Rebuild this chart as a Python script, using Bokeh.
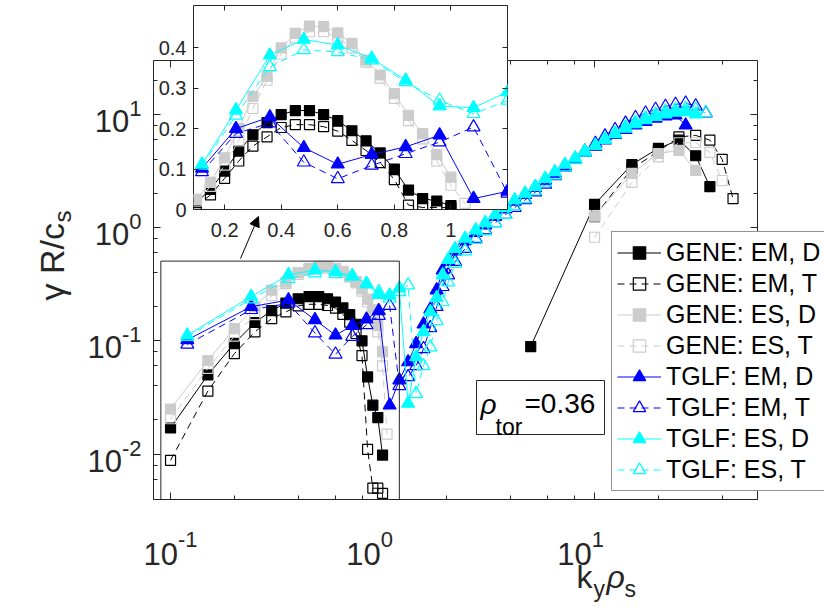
import math
from bokeh.plotting import figure
from bokeh.models import (Range1d, LogAxis, LinearAxis, LogTicker, FixedTicker, Label, Legend,
                          LegendItem, BoxAnnotation, Arrow, NormalHead, CustomJSTickFormatter)
from bokeh.embed import file_html
from bokeh.resources import INLINE

nan = float("nan")

# ---------------- data ----------------
gene_k = [0.10, 0.15, 0.20, 0.25, 0.30, 0.35, 0.40, 0.45, 0.50, 0.55, 0.60, 0.65, 0.70, 0.75,
          0.80, 0.85, 0.90, 0.95, 1.00, 1.05, 5, 10, 15, 20, 25, 30, 35, 40, 45]
gene_em_d = [0.017, 0.050, 0.095, 0.145, 0.185, 0.215, 0.235, 0.245, 0.245, 0.235, 0.220, 0.195,
             0.170, 0.140, 0.100, 0.048, 0.027, 0.021, 0.0098, nan,
             0.089, 1.6, 3.6, 5.0, 5.9, 4.3, 2.3, nan, nan]
gene_em_t = [0.0088, 0.036, 0.077, 0.120, 0.157, 0.180, 0.203, 0.210, 0.210, 0.205, 0.194, 0.171,
             0.146, 0.116, 0.074, 0.011, 0.005, 0.005, 0.0045, nan,
             nan, 1.25, 3.3, 4.7, 6.3, 6.5, 5.9, 4.0, 1.8]
gene_es_d = [0.025, 0.067, 0.128, 0.200, 0.280, 0.330, 0.400, 0.436, 0.454, 0.453, 0.437, 0.411,
             0.370, 0.333, 0.287, 0.233, 0.188, 0.136, 0.080, nan,
             nan, 1.26, 3.0, 4.5, 4.8, 3.2, nan, nan, nan]
gene_es_t = [0.0205, 0.057, 0.110, 0.170, 0.250, 0.320, 0.385, 0.425, 0.440, 0.440, 0.425, 0.400,
             0.365, 0.325, 0.275, 0.220, 0.175, 0.120, 0.060, 0.015,
             nan, 0.82, 2.5, 4.2, 5.6, 5.6, 4.6, 2.6, nan]

tglf_k = [0.12, 0.24, 0.36, 0.48, 0.60, 0.72, 0.84, 0.96, 1.08, 1.20,
          1.32, 1.44, 1.56, 1.68, 1.80, 1.92, 2.04,
          2.2, 2.45, 2.75, 3.05, 3.4, 3.8, 4.2, 4.7, 5.25, 5.85, 6.5, 7.25, 8.1, 9.0,
          10.1, 11.2, 12.5, 14.0, 15.6, 17.4, 19.4, 21.6, 24.1, 26.9, 30.0, 33.5]
tglf_em_d = [0.102, 0.200, 0.229, 0.153, 0.112, 0.136, 0.155, 0.184, 0.027, 0.045,
             0.065, 0.094, 0.14, 0.19, 0.28, 0.42, 0.50,
             0.62, 0.76, 0.90, 1.05, 1.25, 1.45, 1.7, 1.95, 2.25, 2.6, 3.0, 3.5, 4.0, 4.6,
             5.2, 5.9, 6.6, 7.3, 8.0, 8.6, 9.2, 9.6, 9.8, 8.0, nan, nan]
tglf_em_t = [0.093, 0.188, 0.214, 0.117, 0.076, 0.109, 0.138, 0.167, 0.204, 0.040,
             0.048, 0.060, 0.085, 0.13, 0.20, 0.30, 0.38,
             0.50, 0.65, 0.80, 0.95, 1.1, 1.3, 1.5, 1.75, 2.05, 2.4, 2.85, 3.4, 4.0, 4.7,
             5.5, 6.4, 7.3, 8.3, 9.3, 10.2, 11.0, 11.7, 12.2, 12.5, 11.8, 10.2]
tglf_es_d = [0.112, 0.246, 0.382, 0.421, 0.407, 0.374, 0.320, 0.256, 0.252, 0.291,
             0.028, 0.072, 0.12, 0.18, 0.24, 0.38, 0.52,
             0.65, 0.80, 0.95, 1.1, 1.3, 1.5, 1.75, 2.0, 2.3, 2.7, 3.1, 3.6, 4.1, 4.7,
             5.3, 6.0, 6.7, 7.5, 8.2, 8.9, 9.5, 10.0, 10.4, 10.5, 10.0, nan]
tglf_es_t = [0.109, 0.233, 0.353, 0.395, 0.390, 0.370, 0.316, 0.270, 0.237, 0.270,
             0.31, 0.034, 0.060, 0.088, 0.15, 0.22, 0.33,
             0.48, 0.62, 0.78, 0.93, 1.1, 1.3, 1.55, 1.8, 2.1, 2.5, 2.9, 3.4, 3.95, 4.6,
             5.3, 6.0, 6.8, 7.7, 8.5, 9.3, 10.0, 10.6, 11.0, 11.2, 11.0, 10.3]

legend_labels = ["GENE: EM, D", "GENE: EM, T", "GENE: ES, D", "GENE: ES, T",
                 "TGLF: EM, D", "TGLF: EM, T", "TGLF: ES, D", "TGLF: ES, T"]

x_major = [0.1, 1, 10]
x_exp = ["-1", "0", "1"]
y_major = [0.01, 0.1, 1, 10]
y_exp = ["-2", "-1", "0", "1"]
inset_xticks = [0.2, 0.4, 0.6, 0.8, 1.0]
inset_yticks = [0, 0.1, 0.2, 0.3, 0.4]

# ---------------- style ----------------
FONT = "Liberation Sans"
TXT = "#262626"
AX = "#262626"
GRAY = "#cccccc"
series = [
    (gene_k, gene_em_d, "#000000", "solid", "square", True, 10),
    (gene_k, gene_em_t, "#000000", "7 5", "square", False, 10),
    (gene_k, gene_es_d, GRAY, "solid", "square", True, 10),
    (gene_k, gene_es_t, GRAY, "7 5", "square", False, 10),
    (tglf_k, tglf_em_d, "#0000ff", "solid", "triangle", True, 13),
    (tglf_k, tglf_em_t, "#0000ff", "7 5", "triangle", False, 13),
    (tglf_k, tglf_es_d, "#00ffff", "solid", "triangle", True, 13),
    (tglf_k, tglf_es_t, "#00ffff", "7 5", "triangle", False, 13),
]

W, H = 824, 616
FL, FR, FT, FB = 153, 757, 60, 499     # main frame in page pixels
x_lo, x_hi = 0.0831, 58.7
y_lo, y_hi = 0.003973, 29.8
BASE = 0.27   # baseline correction of Label text, in em
x_label_shift = [0, -13, -14]   # horizontal placement of the x tick labels (px)


def tick_style(ax, maj, mnr, labels=False):
    ax.axis_line_color = None
    ax.major_tick_in = maj
    ax.major_tick_out = 0
    ax.minor_tick_in = mnr
    ax.minor_tick_out = 0
    ax.major_tick_line_color = AX
    ax.minor_tick_line_color = AX if mnr else None
    if not labels:
        ax.major_label_text_font_size = "1px"
        ax.major_label_text_color = None
        ax.major_label_standoff = 0


def add_label(fig, x, y, text, size, xu="screen", yu="screen", align="left", xo=0, yo=0,
              angle=0, style="normal", color="#000000"):
    # x, y: baseline position; the correction moves Bokeh's baseline to the glyph baseline
    if angle:
        xo -= BASE * size
    else:
        yo += BASE * size
    fig.add_layout(Label(x=x, y=y, x_units=xu, y_units=yu, text=text, text_font=FONT,
                         text_font_size=f"{size}px", text_align=align,
                         text_baseline="alphabetic", x_offset=xo, y_offset=yo, angle=angle,
                         text_color=color, text_font_style=style))


# ---------------- main figure ----------------
p = figure(width=W, height=H, x_axis_type="log", y_axis_type="log",
           x_range=Range1d(x_lo, x_hi), y_range=Range1d(y_lo, y_hi),
           output_backend="svg", toolbar_location=None, title=None,
           min_border_left=FL, min_border_right=W - FR, min_border_top=FT, min_border_bottom=H - FB,
           background_fill_color="white", border_fill_color="white",
           outline_line_color=AX, outline_line_width=1)
p.xgrid.visible = False
p.ygrid.visible = False
p.xaxis.ticker = LogTicker(desired_num_ticks=3)
p.yaxis.ticker = LogTicker(desired_num_ticks=4)
tick_style(p.xaxis[0], 7, 4)
tick_style(p.yaxis[0], 7, 4)
top_ax = LogAxis(ticker=LogTicker(desired_num_ticks=3))
right_ax = LogAxis(ticker=LogTicker(desired_num_ticks=4))
tick_style(top_ax, 7, 4)
tick_style(right_ax, 7, 4)
p.add_layout(top_ax, "above")
p.add_layout(right_ax, "right")

for (kx, vy, col, dash, mk, filled, sz) in series:
    p.line(kx, vy, line_color=col, line_width=1, line_dash=dash)
    p.scatter(kx, vy, marker=mk, size=sz, line_color=col, line_width=1.2,
              fill_color=col if filled else None)

# region of the inset
inset_x = (0.09, 1.2)
inset_y = (0.0, 0.505)
p.add_layout(BoxAnnotation(left=inset_x[0], right=inset_x[1], bottom=y_lo, top=inset_y[1],
                           fill_alpha=0, line_color=AX, line_alpha=1, line_width=1))
p.add_layout(Arrow(x_start=240 - FL, y_start=FB - 258, x_end=258 - FL, y_end=FB - 216,
                   start_units="screen", end_units="screen", line_color="#000000", line_width=1,
                   end=NormalHead(size=10, fill_color="#000000", line_color="#000000")))

# rho_tor box
p.add_layout(BoxAnnotation(left=476 - FL, right=604 - FL, top=FB - 380, bottom=FB - 434,
                           left_units="screen", right_units="screen", top_units="screen",
                           bottom_units="screen", fill_color="white", fill_alpha=1,
                           line_color=AX, line_alpha=1, line_width=1))
add_label(p, 480 - FL, FB - 412, "ρ", 28, style="italic")
add_label(p, 495 - FL, FB - 433, "tor", 23)
add_label(p, 524 - FL, FB - 411, "=0.36", 28)

# ---------------- inset figure ----------------
IW, IH = 515, 250
IL, IR, IT, IB = 193, 507, 5, 209
ins = figure(width=IW, height=IH, x_range=Range1d(*inset_x), y_range=Range1d(*inset_y),
             output_backend="svg", toolbar_location=None, title=None,
             min_border_left=IL, min_border_right=IW - IR, min_border_top=IT,
             min_border_bottom=IH - IB, background_fill_color="white",
             border_fill_alpha=0, outline_line_color=AX, outline_line_width=1,
             styles={"position": "absolute", "left": "0px", "top": "0px"})
ins.xgrid.visible = False
ins.ygrid.visible = False
fmt = CustomJSTickFormatter(code="return String(Math.round(tick*10)/10)")
ins.xaxis.ticker = FixedTicker(ticks=inset_xticks)
ins.yaxis.ticker = FixedTicker(ticks=inset_yticks)
for ax in (ins.xaxis[0], ins.yaxis[0]):
    tick_style(ax, 5, 0, labels=True)
    ax.formatter = fmt
    ax.major_label_text_font = FONT
    ax.major_label_text_font_size = "20px"
    ax.major_label_text_color = TXT
ins.xaxis.major_label_standoff = 13
ins.yaxis.major_label_standoff = 7
it_ax = LinearAxis(ticker=FixedTicker(ticks=inset_xticks))
ir_ax = LinearAxis(ticker=FixedTicker(ticks=inset_yticks))
tick_style(it_ax, 5, 0)
tick_style(ir_ax, 5, 0)
ins.add_layout(it_ax, "above")
ins.add_layout(ir_ax, "right")

for (kx, vy, col, dash, mk, filled, sz) in series:
    ins.line(kx, vy, line_color=col, line_width=1, line_dash=dash)
    ins.scatter(kx, vy, marker=mk, size=sz, line_color=col, line_width=1.2,
                fill_color=col if filled else None)

# ---------------- overlay: texts outside the frame + legend ----------------
dx = (FR - FL) / math.log10(x_hi / x_lo)
dy = (FB - FT) / math.log10(y_hi / y_lo)
ov_x = (10 ** (math.log10(x_lo) - FL / dx), 10 ** (math.log10(x_hi) + (W - FR) / dx))
ov_y = (10 ** (math.log10(y_lo) - (H - FB) / dy), 10 ** (math.log10(y_hi) + FT / dy))
ov = figure(width=W, height=H, x_axis_type="log", y_axis_type="log",
            x_range=Range1d(*ov_x), y_range=Range1d(*ov_y),
            x_axis_location=None, y_axis_location=None, title=None,
            output_backend="svg", toolbar_location=None, min_border=0,
            background_fill_alpha=0, border_fill_alpha=0, outline_line_color=None,
            styles={"position": "absolute", "left": "0px", "top": "0px"})
ov.xgrid.visible = False
ov.ygrid.visible = False

F10, FS = 31, 22


def sup_w(s):
    return sum(0.333 if ch == "-" else 0.556 for ch in s) * FS


w10 = 1.112 * F10
for t, e, sh in zip(x_major, x_exp, x_label_shift):
    off = (w10 - sup_w(e)) / 2 + sh
    add_label(ov, t, H - 562, "10", F10, xu="data", align="right", xo=off, color=TXT)
    add_label(ov, t, H - 545, e, FS, xu="data", align="left", xo=off, color=TXT)
for t, e in zip(y_major, y_exp):
    add_label(ov, 141, t, e, FS, yu="data", align="right", yo=0, color=TXT)
    add_label(ov, 141 - sup_w(e), t, "10", F10, yu="data", align="right", yo=-15, color=TXT)

# axis titles
add_label(ov, 576, H - 585, "k", 32, color=TXT)
add_label(ov, 593, H - 595, "y", 23, color=TXT)
add_label(ov, 606, H - 585, "ρ", 32, style="italic", color=TXT)
add_label(ov, 624, H - 595, "s", 23, color=TXT)
add_label(ov, 61, H - 300, "γ R/c", 34, angle=math.pi / 2, color=TXT)
add_label(ov, 68, H - 222, "s", 24, angle=math.pi / 2, color=TXT)

items = []
for (kx, vy, col, dash, mk, filled, sz), lab_txt in zip(series, legend_labels):
    lr = ov.line(kx, vy, line_color=col, line_width=1, line_dash=dash, visible=False)
    sr = ov.scatter(kx, vy, marker=mk, size=sz, line_color=col, line_width=1.2,
                    fill_color=col if filled else None, visible=False)
    items.append(LegendItem(label=lab_txt, renderers=[lr, sr]))
legend = Legend(items=items, location=(611, H - 491),
                label_text_font=FONT, label_text_font_size="25px", label_text_color="#000000",
                glyph_width=44, glyph_height=31, label_height=31, label_width=175, spacing=0,
                padding=5, margin=0, label_standoff=5, border_line_color=AX, border_line_width=1,
                background_fill_color="white", background_fill_alpha=1.0,
                inactive_fill_alpha=0)
ov.add_layout(legend)

open("out.html", "w").write(file_html((p, ins, ov), INLINE))
